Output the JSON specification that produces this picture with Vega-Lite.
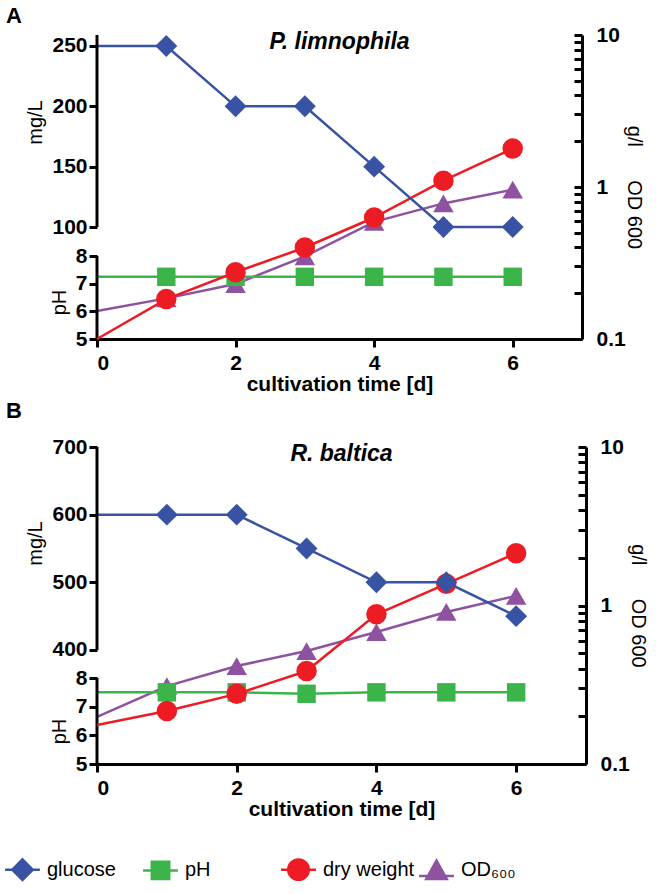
{
"$schema": "https://vega.github.io/schema/vega-lite/v6.json",
"padding": {"left": 5, "top": 5, "right": 5, "bottom": 5},
"data": {"values": [
{"p":"A","day":0,"series":"glucose","value":250},{"p":"A","day":1,"series":"glucose","value":250},{"p":"A","day":2,"series":"glucose","value":200},{"p":"A","day":3,"series":"glucose","value":200},{"p":"A","day":4,"series":"glucose","value":150},{"p":"A","day":5,"series":"glucose","value":100},{"p":"A","day":6,"series":"glucose","value":100},
{"p":"A","day":0,"series":"pH","value":7.25},{"p":"A","day":1,"series":"pH","value":7.25},{"p":"A","day":2,"series":"pH","value":7.25},{"p":"A","day":3,"series":"pH","value":7.25},{"p":"A","day":4,"series":"pH","value":7.25},{"p":"A","day":5,"series":"pH","value":7.25},{"p":"A","day":6,"series":"pH","value":7.25},
{"p":"A","day":0,"series":"dry weight","value":0.1},{"p":"A","day":1,"series":"dry weight","value":0.183},{"p":"A","day":2,"series":"dry weight","value":0.275},{"p":"A","day":3,"series":"dry weight","value":0.40},{"p":"A","day":4,"series":"dry weight","value":0.63},{"p":"A","day":5,"series":"dry weight","value":1.10},{"p":"A","day":6,"series":"dry weight","value":1.79},
{"p":"A","day":0,"series":"OD₆₀₀","value":0.153},{"p":"A","day":1,"series":"OD₆₀₀","value":0.185},{"p":"A","day":2,"series":"OD₆₀₀","value":0.23},{"p":"A","day":3,"series":"OD₆₀₀","value":0.35},{"p":"A","day":4,"series":"OD₆₀₀","value":0.59},{"p":"A","day":5,"series":"OD₆₀₀","value":0.78},{"p":"A","day":6,"series":"OD₆₀₀","value":0.96},
{"p":"B","day":0,"series":"glucose","value":600},{"p":"B","day":1,"series":"glucose","value":600},{"p":"B","day":2,"series":"glucose","value":600},{"p":"B","day":3,"series":"glucose","value":550},{"p":"B","day":4,"series":"glucose","value":500},{"p":"B","day":5,"series":"glucose","value":500},{"p":"B","day":6,"series":"glucose","value":450},
{"p":"B","day":0,"series":"pH","value":7.5},{"p":"B","day":1,"series":"pH","value":7.5},{"p":"B","day":2,"series":"pH","value":7.5},{"p":"B","day":3,"series":"pH","value":7.45},{"p":"B","day":4,"series":"pH","value":7.5},{"p":"B","day":5,"series":"pH","value":7.5},{"p":"B","day":6,"series":"pH","value":7.5},
{"p":"B","day":0,"series":"dry weight","value":0.176},{"p":"B","day":1,"series":"dry weight","value":0.216},{"p":"B","day":2,"series":"dry weight","value":0.277},{"p":"B","day":3,"series":"dry weight","value":0.386},{"p":"B","day":4,"series":"dry weight","value":0.88},{"p":"B","day":5,"series":"dry weight","value":1.37},{"p":"B","day":6,"series":"dry weight","value":2.14},
{"p":"B","day":0,"series":"OD₆₀₀","value":0.198},{"p":"B","day":1,"series":"OD₆₀₀","value":0.31},{"p":"B","day":2,"series":"OD₆₀₀","value":0.415},{"p":"B","day":3,"series":"OD₆₀₀","value":0.516},{"p":"B","day":4,"series":"OD₆₀₀","value":0.68},{"p":"B","day":5,"series":"OD₆₀₀","value":0.91},{"p":"B","day":6,"series":"OD₆₀₀","value":1.15}
]},
"spacing": 6,
"vconcat": [
{
 "title": {"text": "A", "anchor": "start", "frame": "bounds", "fontSize": 22, "fontWeight": "bold", "fontStyle": "normal", "offset": -4, "dx": -20},
 "vconcat": [{
 "width": 485, "height": 304,
 "title": {"text": "P. limnophila", "anchor": "middle", "frame": "group", "fontSize": 23, "fontWeight": "bold", "fontStyle": "italic", "offset": -30},
 "transform": [{"filter": "datum.p === 'A'"}],
 "encoding": {"x": {"field": "day", "type": "quantitative", "scale": {"domain": [0, 7], "nice": false}, "axis": {"values": [0, 2, 4, 6], "title": "cultivation time [d]"}}},
 "layer": [
  {"transform": [{"filter": "datum.series === 'OD₆₀₀'"}],
   "encoding": {"y": {"field": "value", "type": "quantitative", "scale": {"type": "log", "domain": [0.1, 10]}, "axis": null}},
   "layer": [
    {"mark": {"type": "line", "strokeWidth": 2.5}, "encoding": {"color": {"field": "series", "type": "nominal", "title": null, "scale": {"domain": ["glucose", "pH", "dry weight", "OD₆₀₀"], "range": ["#3953A4", "#3BB44A", "#ED1C24", "#8E52A1"]}, "legend": {"orient": "none", "legendX": -86, "legendY": 823, "direction": "horizontal", "gridAlign": "all", "encode": {"symbols": {"update": {"shape": {"signal": "datum.value === 'glucose' ? 'M-1.7,0L1.7,0M0,-1L1,0L0,1L-1,0Z' : datum.value === 'pH' ? 'M-1.7,0L1.7,0M-0.85,-0.85L0.85,-0.85L0.85,0.85L-0.85,0.85Z' : datum.value === 'dry weight' ? 'M-1.7,0L1.7,0M1,0A1,1,0,1,1,-1,0A1,1,0,1,1,1,0Z' : 'M-1.7,0.55L1.7,0.55M0,-0.95L1,0.85L-1,0.85Z'"}, "strokeWidth": {"value": 2.5}}}}}}}},
    {"transform": [{"filter": "datum.day > 0"}], "mark": {"type": "point", "shape": "triangle-up", "filled": true, "opacity": 1, "size": 420}, "encoding": {"color": {"field": "series", "type": "nominal", "title": null}}}
   ]},
  {"transform": [{"filter": "datum.series === 'pH'"}],
   "encoding": {"y": {"field": "value", "type": "quantitative", "scale": {"domain": [5, 16], "nice": false, "zero": false}, "axis": {"orient": "left", "values": [5, 6, 7, 8], "domain": false, "title": "pH", "titleY": 267}}},
   "layer": [
    {"mark": {"type": "line", "strokeWidth": 2.5}, "encoding": {"color": {"field": "series", "type": "nominal", "title": null}}},
    {"transform": [{"filter": "datum.day > 0"}], "mark": {"type": "point", "shape": "square", "filled": true, "opacity": 1, "size": 340}, "encoding": {"color": {"field": "series", "type": "nominal", "title": null}}},
    {"transform": [{"filter": "datum.day === 0"}], "mark": {"type": "rule", "strokeWidth": 3, "color": "black"}, "encoding": {"x": {"datum": 0}, "y": {"datum": 5}, "y2": {"datum": 8}}}
   ]},
  {"transform": [{"filter": "datum.series === 'dry weight'"}],
   "encoding": {"y": {"field": "value", "type": "quantitative", "scale": {"type": "log", "domain": [0.1, 10]}, "axis": {"orient": "right", "values": [0.1, 0.2, 0.3, 0.4, 0.5, 0.6, 0.7, 0.8, 0.9, 1, 2, 3, 4, 5, 6, 7, 8, 9, 10], "labelExpr": "indexof([0.1, 1, 10], datum.value) >= 0 ? datum.label : ''", "format": "~g", "tickSize": -8, "labelPadding": 22, "titlePadding": -2, "titleFontSize": 20, "title": "g/l\u00a0\u00a0\u00a0\u00a0\u00a0\u00a0OD 600"}}},
   "layer": [
    {"mark": {"type": "line", "strokeWidth": 2.5}, "encoding": {"color": {"field": "series", "type": "nominal", "title": null}}},
    {"transform": [{"filter": "datum.day > 0"}], "mark": {"type": "point", "shape": "circle", "filled": true, "opacity": 1, "size": 420}, "encoding": {"color": {"field": "series", "type": "nominal", "title": null}}}
   ]},
  {"transform": [{"filter": "datum.series === 'glucose'"}],
   "encoding": {"y": {"field": "value", "type": "quantitative", "scale": {"domain": [7.2, 259.1], "nice": false, "zero": false}, "axis": {"orient": "left", "values": [100, 150, 200, 250], "domain": false, "title": "mg/L", "titleY": 87}}},
   "layer": [
    {"mark": {"type": "line", "strokeWidth": 2.5}, "encoding": {"color": {"field": "series", "type": "nominal", "title": null}}},
    {"transform": [{"filter": "datum.day > 0"}], "mark": {"type": "point", "shape": "diamond", "filled": true, "opacity": 1, "size": 480}, "encoding": {"color": {"field": "series", "type": "nominal", "title": null}}},
    {"transform": [{"filter": "datum.day === 0"}], "mark": {"type": "rule", "strokeWidth": 3, "color": "black"}, "encoding": {"x": {"datum": 0}, "y": {"datum": 100}, "y2": {"datum": 259.1}}}
   ]}
 ],
 "resolve": {"scale": {"y": "independent"}, "axis": {"y": "independent"}}
 }]
},
{
 "title": {"text": "B", "anchor": "start", "frame": "bounds", "fontSize": 22, "fontWeight": "bold", "fontStyle": "normal", "offset": 13, "dx": -20},
 "vconcat": [{
 "width": 489, "height": 317,
 "title": {"text": "R. baltica", "anchor": "middle", "frame": "group", "fontSize": 23, "fontWeight": "bold", "fontStyle": "italic", "offset": -30},
 "transform": [{"filter": "datum.p === 'B'"}],
 "encoding": {"x": {"field": "day", "type": "quantitative", "scale": {"domain": [0, 7], "nice": false}, "axis": {"values": [0, 2, 4, 6], "title": "cultivation time [d]"}}},
 "layer": [
  {"transform": [{"filter": "datum.series === 'OD₆₀₀'"}],
   "encoding": {"y": {"field": "value", "type": "quantitative", "scale": {"type": "log", "domain": [0.1, 10]}, "axis": null}},
   "layer": [
    {"mark": {"type": "line", "strokeWidth": 2.5}, "encoding": {"color": {"field": "series", "type": "nominal", "title": null}}},
    {"transform": [{"filter": "datum.day > 0"}], "mark": {"type": "point", "shape": "triangle-up", "filled": true, "opacity": 1, "size": 420}, "encoding": {"color": {"field": "series", "type": "nominal", "title": null}}}
   ]},
  {"transform": [{"filter": "datum.series === 'pH'"}],
   "encoding": {"y": {"field": "value", "type": "quantitative", "scale": {"domain": [5, 16.06], "nice": false, "zero": false}, "axis": {"orient": "left", "values": [5, 6, 7, 8], "domain": false, "title": "pH", "titleY": 284}}},
   "layer": [
    {"mark": {"type": "line", "strokeWidth": 2.5}, "encoding": {"color": {"field": "series", "type": "nominal", "title": null}}},
    {"transform": [{"filter": "datum.day > 0"}], "mark": {"type": "point", "shape": "square", "filled": true, "opacity": 1, "size": 340}, "encoding": {"color": {"field": "series", "type": "nominal", "title": null}}},
    {"transform": [{"filter": "datum.day === 0"}], "mark": {"type": "rule", "strokeWidth": 3, "color": "black"}, "encoding": {"x": {"datum": 0}, "y": {"datum": 5}, "y2": {"datum": 8}}}
   ]},
  {"transform": [{"filter": "datum.series === 'dry weight'"}],
   "encoding": {"y": {"field": "value", "type": "quantitative", "scale": {"type": "log", "domain": [0.1, 10]}, "axis": {"orient": "right", "values": [0.1, 0.2, 0.3, 0.4, 0.5, 0.6, 0.7, 0.8, 0.9, 1, 2, 3, 4, 5, 6, 7, 8, 9, 10], "labelExpr": "indexof([0.1, 1, 10], datum.value) >= 0 ? datum.label : ''", "format": "~g", "tickSize": -8, "labelPadding": 22, "titlePadding": -2, "titleFontSize": 20, "title": "g/l\u00a0\u00a0\u00a0\u00a0\u00a0\u00a0OD 600"}}},
   "layer": [
    {"mark": {"type": "line", "strokeWidth": 2.5}, "encoding": {"color": {"field": "series", "type": "nominal", "title": null}}},
    {"transform": [{"filter": "datum.day > 0"}], "mark": {"type": "point", "shape": "circle", "filled": true, "opacity": 1, "size": 420}, "encoding": {"color": {"field": "series", "type": "nominal", "title": null}}}
   ]},
  {"transform": [{"filter": "datum.series === 'glucose'"}],
   "encoding": {"y": {"field": "value", "type": "quantitative", "scale": {"domain": [231.5, 700], "nice": false, "zero": false}, "axis": {"orient": "left", "values": [400, 500, 600, 700], "domain": false, "title": "mg/L", "titleY": 96}}},
   "layer": [
    {"mark": {"type": "line", "strokeWidth": 2.5}, "encoding": {"color": {"field": "series", "type": "nominal", "title": null}}},
    {"transform": [{"filter": "datum.day > 0"}], "mark": {"type": "point", "shape": "diamond", "filled": true, "opacity": 1, "size": 480}, "encoding": {"color": {"field": "series", "type": "nominal", "title": null}}},
    {"transform": [{"filter": "datum.day === 0"}], "mark": {"type": "rule", "strokeWidth": 3, "color": "black"}, "encoding": {"x": {"datum": 0}, "y": {"datum": 400}, "y2": {"datum": 700}}}
   ]}
 ],
 "resolve": {"scale": {"y": "independent"}, "axis": {"y": "independent"}}
 }]
}
],
"config": {
 "font": "Liberation Sans",
 "view": {"stroke": null},
 "axis": {"grid": false, "domainColor": "black", "domainWidth": 3, "tickColor": "black", "tickWidth": 3, "tickSize": 8, "labelColor": "black", "labelFontSize": 21, "labelFontWeight": "bold", "labelPadding": 2, "titleColor": "black", "titleFontSize": 20, "titleFontWeight": "normal", "titlePadding": 6},
 "axisX": {"titleFontWeight": "bold", "titleFontSize": 21, "labelPadding": 5, "titlePadding": 0},
 "legend": {"labelFontSize": 20, "labelColor": "black", "symbolSize": 420, "columnPadding": -1, "labelOffset": 13, "symbolOpacity": 1}
}
}
